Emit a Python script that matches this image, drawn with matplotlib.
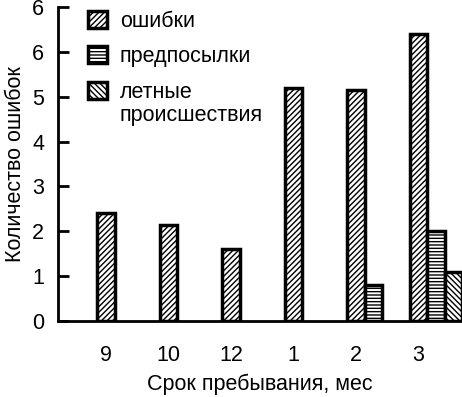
import numpy as np
import matplotlib.pyplot as plt

plt.rcParams['font.family'] = ['Liberation Sans', 'DejaVu Sans']
plt.rcParams['hatch.linewidth'] = 1.0

# ----------------------------
# Данные
# ----------------------------
months = ["9", "10", "12", "1", "2", "3"]
errors = [2.4, 2.15, 1.6, 5.2, 5.15, 6.4]
preconditions = [0, 0, 0, 0, 0.8, 2.0]
incidents = [0, 0, 0, 0, 0, 1.1]
y_ticks = [0, 1, 2, 3, 4, 5, 6, 7]
y_labels = ["0", "1", "2", "3", "4", "5", "6", "6"]

FS = 15.5

# ----------------------------
# График
# ----------------------------
fig = plt.figure(figsize=(4.62, 3.97), dpi=100)
ax = fig.add_axes([58 / 462, 1 - 321 / 397, 1 - 58 / 462, 314 / 397])

x = np.arange(len(months))
w = 0.28
kw = dict(edgecolor="black", linewidth=2.5, color="white")

ax.bar(x, errors, w, hatch="//////", label="ошибки", **kw)
mask = np.array(preconditions) > 0
ax.bar(x[mask] + w, np.array(preconditions)[mask], w, hatch="-----",
       label="предпосылки", **kw)
mask = np.array(incidents) > 0
ax.bar(x[mask] + 2 * w, np.array(incidents)[mask], w, hatch="\\\\\\\\\\\\",
       label="летные", **kw)

ax.set_xlim(-0.77, 5.7)
ax.set_ylim(0, 7)
ax.set_xticks(x)
ax.set_xticklabels(months)
ax.set_yticks(y_ticks)
ax.set_yticklabels(y_labels)

for s in ["top", "right"]:
    ax.spines[s].set_visible(False)
ax.spines["left"].set_linewidth(2)
ax.spines["bottom"].set_linewidth(2)

ax.tick_params(axis="x", length=0, pad=17, labelsize=FS)
ax.tick_params(axis="y", direction="in", length=8, width=2, pad=10,
               labelsize=FS)

ax.set_xlabel("Срок пребывания, мес", fontsize=FS, labelpad=6)
ax.set_ylabel("Количество ошибок", fontsize=FS, labelpad=4)

ax.legend(loc="upper left", bbox_to_anchor=((88 - 58) / 404, 0.987),
          frameon=False, fontsize=FS, handlelength=0.88, handleheight=0.85,
          handletextpad=0.6, labelspacing=0.66, borderpad=0,
          borderaxespad=0)
# вторая строка подписи третьего элемента легенды
fig.text(120 / 462, 1 - 115 / 397, "происшествия", fontsize=FS,
         va="center", ha="left")

fig.savefig("out.png", dpi=100)
